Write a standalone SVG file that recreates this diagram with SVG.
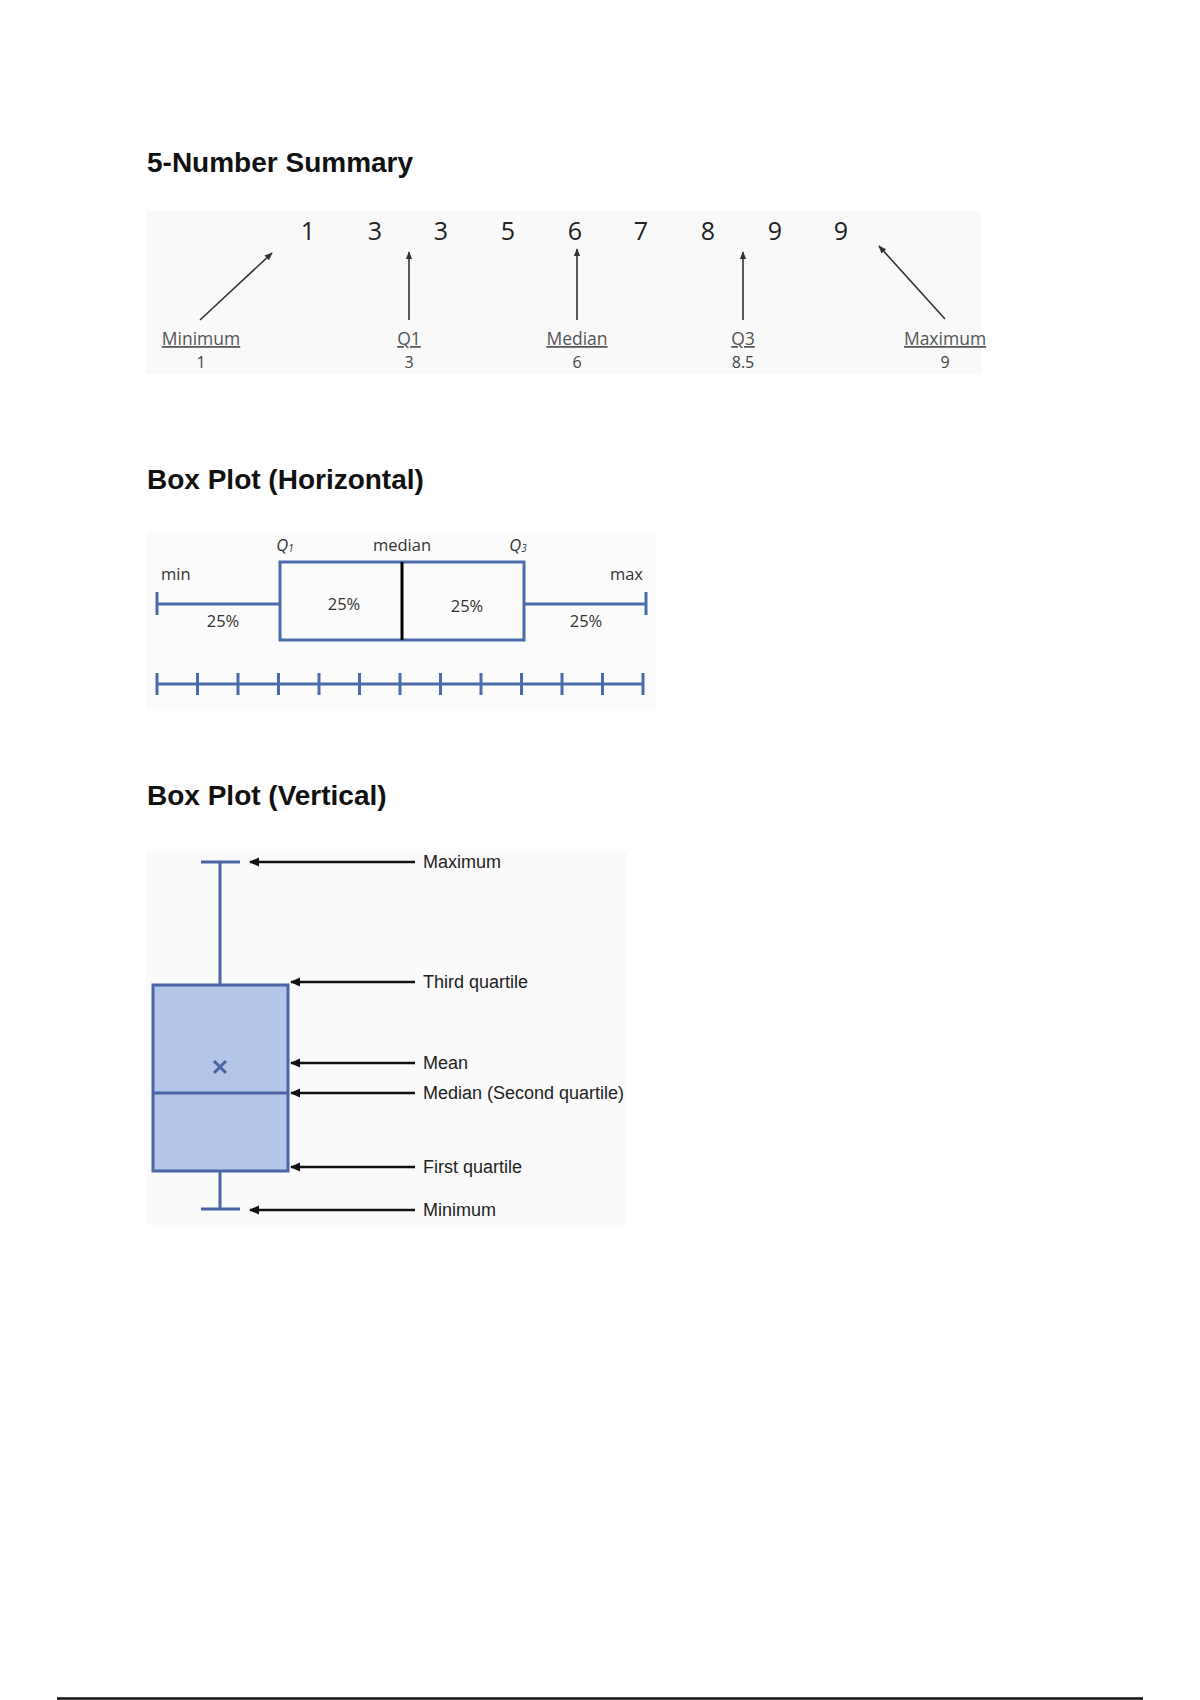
<svg xmlns="http://www.w3.org/2000/svg" width="1200" height="1700" viewBox="0 0 1200 1700">
<style>
.title{font-family:"Liberation Sans",Arial,sans-serif;font-weight:bold;font-size:28px;fill:#111}
.num{font-family:"Open Sans","Noto Sans",sans-serif;font-size:25px;fill:#222;text-anchor:middle}
.lab{font-family:"Open Sans","Noto Sans",sans-serif;font-size:17.5px;fill:#555;text-anchor:middle;text-decoration:underline}
.val{font-family:"Open Sans","Noto Sans",sans-serif;font-size:16px;fill:#444;text-anchor:middle}
.hl{font-family:"Open Sans","Noto Sans",sans-serif;font-size:16.5px;fill:#333}
.vl{font-family:"Liberation Sans",Arial,sans-serif;font-size:18px;fill:#222}
.thin{stroke:#333;stroke-width:1.6;fill:none}
.blue{stroke:#4a6cad;stroke-width:3;fill:none}
.vblue{stroke:#4a64a6;stroke-width:3}
.blk{stroke:#111;stroke-width:2.5;fill:none}
</style>
<defs>
<marker id="ah" viewBox="0 0 10 10" refX="9" refY="5" markerWidth="5" markerHeight="5" orient="auto" markerUnits="strokeWidth">
<path d="M0,1 L10,5 L0,9 Z" fill="#333"/>
</marker>
<marker id="ah2" viewBox="0 0 10 10" refX="9" refY="5" markerWidth="4.5" markerHeight="4" orient="auto" markerUnits="strokeWidth">
<path d="M0,0.5 L10,5 L0,9.5 Z" fill="#111"/>
</marker>
</defs>
<rect width="1200" height="1700" fill="#ffffff"/>

<!-- Section 1 -->
<g id="five-number">
<rect x="146" y="211" width="835" height="163" fill="#f9f9f9"/>
<text class="title" x="147" y="172">5-Number Summary</text>
<g id="numbers">
<text class="num" x="308" y="240">1</text>
<text class="num" x="375" y="240">3</text>
<text class="num" x="441" y="240">3</text>
<text class="num" x="508" y="240">5</text>
<text class="num" x="575" y="240">6</text>
<text class="num" x="641" y="240">7</text>
<text class="num" x="708" y="240">8</text>
<text class="num" x="775" y="240">9</text>
<text class="num" x="841" y="240">9</text>
</g>
<g id="lbl-min"><text class="lab" x="201" y="345">Minimum</text><text class="val" x="201" y="368">1</text></g>
<g id="lbl-q1"><text class="lab" x="409" y="345">Q1</text><text class="val" x="409" y="368">3</text></g>
<g id="lbl-med"><text class="lab" x="577" y="345">Median</text><text class="val" x="577" y="368">6</text></g>
<g id="lbl-q3"><text class="lab" x="743" y="345">Q3</text><text class="val" x="743" y="368">8.5</text></g>
<g id="lbl-max"><text class="lab" x="945" y="345">Maximum</text><text class="val" x="945" y="368">9</text></g>
</g>
<g id="connectors-1">
<line class="thin" x1="200" y1="320" x2="272" y2="253" marker-end="url(#ah)"/>
<line class="thin" x1="409" y1="320" x2="409" y2="252" marker-end="url(#ah)"/>
<line class="thin" x1="577" y1="320" x2="577" y2="249" marker-end="url(#ah)"/>
<line class="thin" x1="743" y1="320" x2="743" y2="252" marker-end="url(#ah)"/>
<line class="thin" x1="945" y1="319" x2="879" y2="246" marker-end="url(#ah)"/>
</g>

<!-- Section 2 -->
<g id="box-horizontal">
<rect x="146" y="531" width="510" height="179" fill="#fbfbfb"/>
<text class="title" x="147" y="489">Box Plot (Horizontal)</text>
<text class="hl" x="285" y="551" text-anchor="middle" font-style="italic">Q<tspan font-size="10" dy="1">1</tspan></text>
<text class="hl" x="402" y="551" text-anchor="middle">median</text>
<text class="hl" x="518" y="551" text-anchor="middle" font-style="italic">Q<tspan font-size="10" dy="1">3</tspan></text>
<text class="hl" x="161" y="580">min</text>
<text class="hl" x="643" y="580" text-anchor="end">max</text>
<rect class="blue" x="280" y="562" width="244" height="78" fill="#ffffff"/>
<line x1="402" y1="562" x2="402" y2="640" stroke="#000" stroke-width="3"/>
<line class="blue" x1="157" y1="604" x2="280" y2="604"/>
<line class="blue" x1="157" y1="592" x2="157" y2="615"/>
<line class="blue" x1="524" y1="604" x2="646" y2="604"/>
<line class="blue" x1="646" y1="592" x2="646" y2="615"/>
<text class="hl" x="223" y="627" text-anchor="middle" font-size="17">25%</text>
<text class="hl" x="344" y="610" text-anchor="middle" font-size="17">25%</text>
<text class="hl" x="467" y="612" text-anchor="middle" font-size="17">25%</text>
<text class="hl" x="586" y="627" text-anchor="middle" font-size="17">25%</text>
<g id="axis">
<line class="blue" x1="157" y1="684" x2="643" y2="684"/>
<path class="blue" d="M157,673V695M197.5,673V695M238,673V695M278.5,673V695M319,673V695M359.5,673V695M400,673V695M440.5,673V695M481,673V695M521.5,673V695M562,673V695M602.5,673V695M643,673V695"/>
</g>
</g>

<!-- Section 3 -->
<g id="box-vertical">
<rect x="146" y="851" width="481" height="374" fill="#fafafa"/>
<text class="title" x="147" y="805">Box Plot (Vertical)</text>
<line class="vblue" x1="201" y1="862" x2="240" y2="862"/>
<line class="vblue" x1="220" y1="862" x2="220" y2="985"/>
<rect class="vblue" x="153" y="985" width="135" height="186" fill="#b4c6e7"/>
<line class="vblue" x1="153" y1="1093" x2="288" y2="1093"/>
<line class="vblue" x1="220" y1="1171" x2="220" y2="1209"/>
<line class="vblue" x1="201" y1="1209" x2="240" y2="1209"/>
<path d="M214,1061L226,1073M226,1061L214,1073" stroke="#4a64a6" stroke-width="3"/>
<g id="lab-max"><text class="vl" x="423" y="868">Maximum</text></g>
<g id="lab-q3"><text class="vl" x="423" y="988">Third quartile</text></g>
<g id="lab-mean"><text class="vl" x="423" y="1069">Mean</text></g>
<g id="lab-median"><text class="vl" x="423" y="1099">Median (Second quartile)</text></g>
<g id="lab-q1"><text class="vl" x="423" y="1173">First quartile</text></g>
<g id="lab-min"><text class="vl" x="423" y="1216">Minimum</text></g>
</g>
<g id="connectors-3">
<line class="blk" x1="415" y1="862" x2="250" y2="862" marker-end="url(#ah2)"/>
<line class="blk" x1="415" y1="982" x2="291" y2="982" marker-end="url(#ah2)"/>
<line class="blk" x1="415" y1="1063" x2="291" y2="1063" marker-end="url(#ah2)"/>
<line class="blk" x1="415" y1="1093" x2="291" y2="1093" marker-end="url(#ah2)"/>
<line class="blk" x1="415" y1="1167" x2="291" y2="1167" marker-end="url(#ah2)"/>
<line class="blk" x1="415" y1="1210" x2="250" y2="1210" marker-end="url(#ah2)"/>
</g>

<line x1="57" y1="1698.5" x2="1143" y2="1698.5" stroke="#111" stroke-width="2.5"/>
</svg>
